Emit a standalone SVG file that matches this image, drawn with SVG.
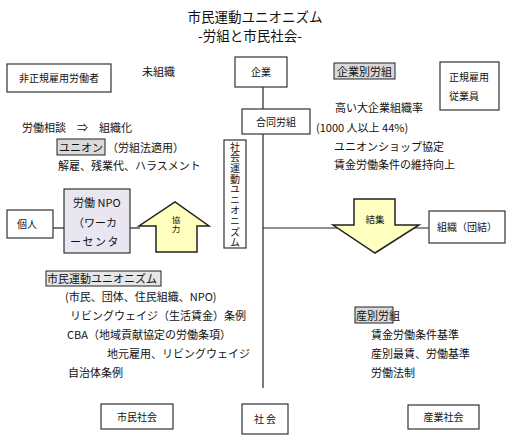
<svg xmlns="http://www.w3.org/2000/svg" width="512" height="442" viewBox="0 0 512 442">
<style>
text{font-family:"Noto Sans CJK JP","Noto Sans CJK SC",sans-serif;fill:#111;}
.t{font-size:11px;}
.s{font-size:10px;}
.box{fill:#fff;stroke:#333;stroke-width:1.2;}
.hl{fill:#d9d9d9;stroke:#222;stroke-width:1;}
.ln{stroke:#222;stroke-width:1.2;fill:none;}
.arr{fill:#ffffc0;stroke:#222;stroke-width:1.5;}
</style>
<rect width="512" height="442" fill="#fff"/>
<g id="title">
<text x="255" y="22" font-size="13.5" text-anchor="middle">市民運動ユニオニズム</text>
<text x="250" y="41" font-size="13.5" text-anchor="middle">-労組と市民社会-</text>
</g>
<g id="connectors">
<line class="ln" x1="263" y1="87" x2="263" y2="109"/>
<line class="ln" x1="263" y1="134" x2="263" y2="388"/>
<line class="ln" x1="263" y1="228" x2="429" y2="228"/>
<line class="ln" x1="53" y1="228" x2="64" y2="228"/>
<line class="ln" x1="130" y1="228" x2="140" y2="228"/>
</g>
<g id="n-hiseiki"><rect class="box" x="7" y="64" width="104" height="28"/><text class="s" x="59" y="82" text-anchor="middle">非正規雇用労働者</text></g>
<g id="n-misoshiki"><text class="t" x="142" y="76">未組織</text></g>
<g id="n-kigyo"><rect class="box" x="235" y="57" width="52" height="30"/><text class="s" x="261" y="76" text-anchor="middle">企業</text></g>
<g id="n-godo"><rect class="box" x="242" y="109" width="68" height="25"/><text class="s" x="276" y="126" text-anchor="middle">合同労組</text></g>
<g id="n-kigyobetsu"><rect class="hl" x="334" y="63" width="61" height="16"/><text class="t" x="364.5" y="75.5" text-anchor="middle">企業別労組</text></g>
<g id="n-seiki"><rect class="box" x="440" y="62" width="59" height="48"/><text class="s" x="449" y="81">正規雇用</text><text class="s" x="449" y="100">従業員</text></g>
<g id="n-kigyobetsu-text">
<text class="t" x="335" y="112">高い大企業組織率</text>
<text class="t" x="316" y="132">(1000 人以上 44%)</text>
<text class="t" x="334" y="151">ユニオンショップ協定</text>
<text class="t" x="334" y="169">賃金労働条件の維持向上</text>
</g>
<g id="n-union">
<text class="t" x="22" y="132">労働相談　⇒　組織化</text>
<rect class="hl" x="57" y="139" width="48" height="16"/>
<text class="t" x="59" y="151.5">ユニオン</text>
<text class="t" x="107" y="151.5">（労組法適用）</text>
<text class="t" x="58" y="170">解雇、残業代、ハラスメント</text>
</g>
<g id="n-shakai-undo"><rect class="box" x="224" y="140" width="22" height="108"/>
<text x="235" y="142" font-size="10" writing-mode="vertical-rl" letter-spacing="0.6">社会運動ユニオニズム</text>
</g>
<g id="n-kojin"><rect class="box" x="7" y="210" width="46" height="28"/><text class="s" x="17" y="228">個人</text></g>
<g id="n-npo"><rect x="64" y="189" width="66" height="64" fill="#e9e6f1" stroke="#333" stroke-width="1.2"/>
<text class="t" x="73" y="207">労働 NPO</text>
<text class="t" x="73" y="227">（ワーカ</text>
<text class="t" x="70" y="246" letter-spacing="1.5">ーセンタ</text>
</g>
<g id="n-kyoryoku"><polygon class="arr" points="156,252 197,252 197,226 209,226 175,202 139,226 156,226"/>
<text x="176" y="216" font-size="8.5" writing-mode="vertical-rl">協力</text>
</g>
<g id="n-kesshu"><polygon class="arr" points="354,199 395,199 395,225 419,225 375,253 333,225 354,225"/>
<text font-size="9.5" x="375" y="223" text-anchor="middle">結集</text>
</g>
<g id="n-soshiki"><rect class="box" x="429" y="211" width="76" height="32"/><text class="s" x="437" y="231">組織（団結）</text></g>
<g id="n-shimin-union">
<rect x="46" y="271" width="115" height="15" fill="#e6e6e6" stroke="#222" stroke-width="1"/>
<text class="t" x="47" y="283">市民運動ユニオニズム</text>
<text class="t" x="65" y="301">(市民、団体、住民組織、NPO)</text>
<text class="t" x="70" y="320">リビングウェイジ（生活賃金）条例</text>
<text class="t" x="67" y="339">CBA（地域貢献協定の労働条項）</text>
<text class="t" x="107" y="358">地元雇用、リビングウェイジ</text>
<text class="t" x="68" y="377">自治体条例</text>
</g>
<g id="n-sanbetsu">
<rect class="hl" x="355" y="307" width="38" height="16"/>
<text class="t" x="356" y="319.5">産別労組</text>
<text class="t" x="371" y="339">賃金労働条件基準</text>
<text class="t" x="371" y="358">産別最賃、労働基準</text>
<text class="t" x="371" y="377">労働法制</text>
</g>
<g id="n-shiminshakai"><rect class="box" x="101" y="404" width="72" height="25"/><text class="s" x="137" y="421" text-anchor="middle">市民社会</text></g>
<g id="n-shakai"><rect class="box" x="242" y="404" width="46" height="30"/><text class="s" x="265" y="423" text-anchor="middle">社 会</text></g>
<g id="n-sangyo"><rect class="box" x="408" y="405" width="71" height="24"/><text class="s" x="443.5" y="421" text-anchor="middle">産業社会</text></g>
</svg>
